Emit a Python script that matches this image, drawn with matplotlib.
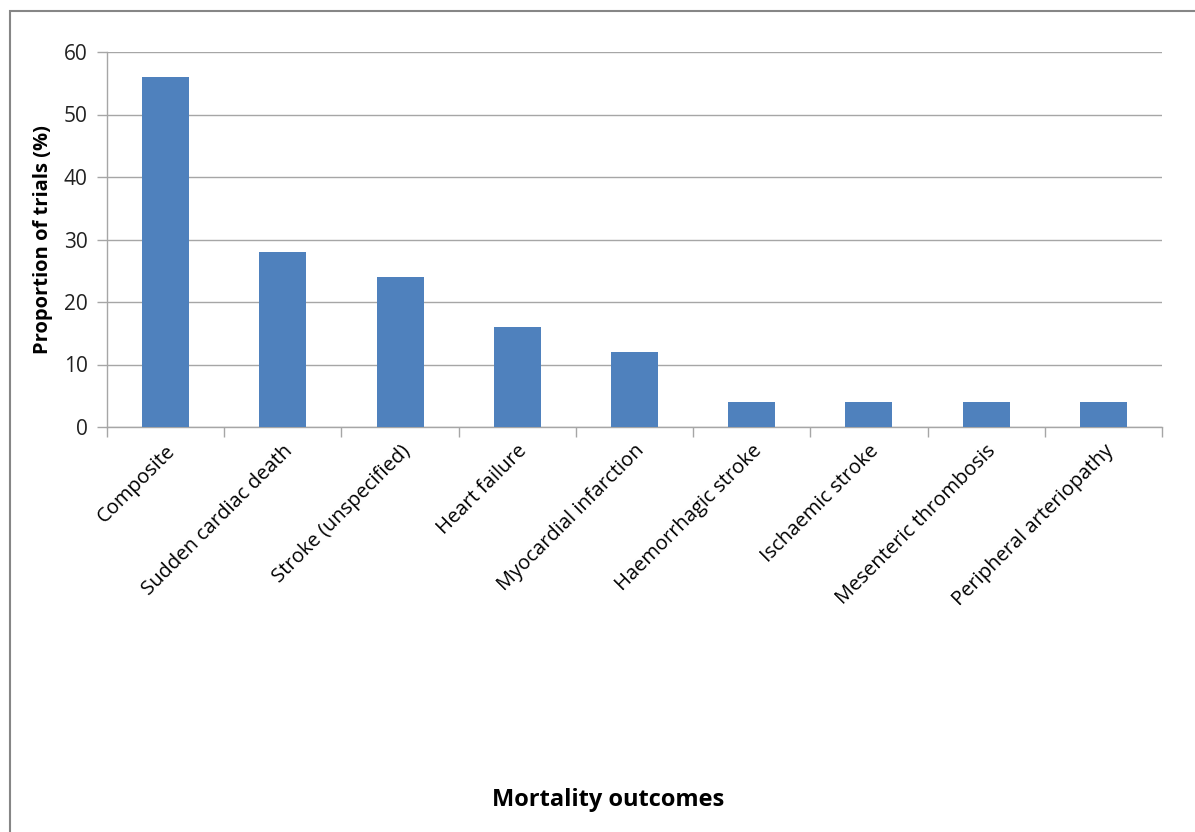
import matplotlib.pyplot as plt
import matplotlib.patches as patches
import numpy as np

plt.rcParams['font.family'] = ['Open Sans', 'DejaVu Sans']

outcomes = ['Composite', 'Sudden cardiac death', 'Stroke (unspecified)',
            'Heart failure', 'Myocardial infarction', 'Haemorrhagic stroke',
            'Ischaemic stroke', 'Mesenteric thrombosis', 'Peripheral arteriopathy']
proportions = [56, 28, 24, 16, 12, 4, 4, 4, 4]
yticks = [0, 10, 20, 30, 40, 50, 60]

barColor = '#4f81bd'
gridColor = '#a6a6a6'

fig = plt.figure(figsize=(11.95, 8.32), dpi=100)
ax = fig.add_axes([107/1195, 1-427/832, (1162-107)/1195, (427-52)/832])

# outer chart border (like the excel chart frame)
fig.patches.append(patches.Rectangle((10/1195, -0.05), 1.1, 1-11/832+0.05,
                                     transform=fig.transFigure, fill=False,
                                     edgecolor='#868686', linewidth=1.5))

x = np.arange(len(outcomes))
ax.bar(x, proportions, width=0.4, color=barColor, zorder=3)

ax.set_xlim(-0.5, len(outcomes) - 0.5)
ax.set_ylim(0, 60)
ax.set_yticks(yticks)
ax.yaxis.grid(True, color=gridColor, linewidth=1, zorder=0)

# ticks at category boundaries, labels at centers
ax.set_xticks(np.arange(-0.5, len(outcomes)), minor=False)
ax.set_xticklabels([])
ax.set_xticks(x, minor=True)
ax.set_xticklabels(outcomes, minor=True, rotation=45, ha='right',
                   rotation_mode='anchor', fontsize=14.5)
ax.tick_params(axis='x', which='minor', length=0, pad=10)
ax.tick_params(axis='x', which='major', length=7, color=gridColor, width=1)
ax.tick_params(axis='y', length=7, color=gridColor, width=1, labelsize=15,
               labelcolor='#222222', pad=7)

for s in ['top', 'right']:
    ax.spines[s].set_visible(False)
for s in ['left', 'bottom']:
    ax.spines[s].set_color(gridColor)
    ax.spines[s].set_linewidth(1)

ax.set_ylabel('Proportion of trials (%)', fontsize=14.5, fontweight='bold', labelpad=8)
fig.text(608/1195, 1-800/832, 'Mortality outcomes', fontsize=17,
         fontweight='bold', ha='center', va='center')

fig.savefig('out.png', dpi=100)
